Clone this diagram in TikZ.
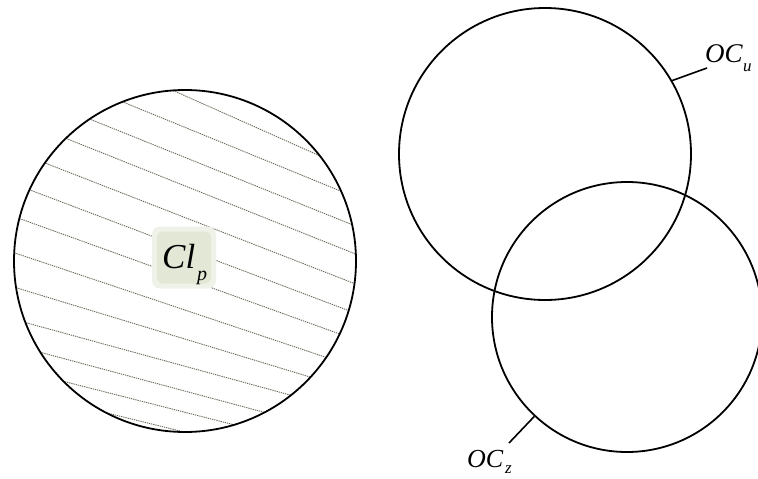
\documentclass[tikz,border=0pt]{standalone}
\usepackage{fontspec}
\setmainfont{Liberation Serif}
\definecolor{hatchc}{HTML}{6E695B}
\definecolor{boxc}{HTML}{E3E8D6}
\definecolor{boxh}{HTML}{EFF2E8}
\begin{document}
\begin{tikzpicture}[x=1pt,y=-1pt,
  ring/.style={circle, draw=black, line width=1.8pt, inner sep=0pt, minimum size=#1},
  hatch/.style={draw=hatchc, line width=0.9pt, dash pattern=on 1.3pt off 0.9pt, shorten <=-14pt, shorten >=-14pt},
  tick/.style={draw=black, line width=1.6pt},
  lab/.style={inner sep=0pt, anchor=base west, font=\fontsize{27}{27}\selectfont\itshape},
  sublab/.style={inner sep=0pt, anchor=base west, font=\fontsize{17}{17}\selectfont\itshape}]
\useasboundingbox (0,0) rectangle (758,479);
\fill[white] (0,0) rectangle (758,479);
% hatching of the left disc
\begin{scope}
  \clip (185,261) circle[radius=171];
  \foreach \xa/\ya/\xb/\yb in {172/90/318/155, 123/102/338/190, 92/120/348/223,
      65/138/353/253, 45/163/353/283, 30/190/347/310, 18/218/337/333,
      15/253/325/357, 17/288/310/377, 27/323/290/395, 43/353/263/412,
      70/383/227/423, 107/413/168/428}
    \draw[hatch] (\xa,\ya) -- (\xb,\yb);
\end{scope}
% label patch
\node (clpbg) [fill=boxh, rounded corners=8pt, minimum width=64pt, minimum height=62pt, inner sep=0pt] at (184,257.5) {};
\node (clpbox) [fill=boxc, rounded corners=6pt, minimum width=54pt, minimum height=52pt, inner sep=0pt] at (184,257.5) {};
\node (cl) [lab, font=\fontsize{35}{35}\selectfont\itshape] at (162,268) {Cl};
\node (clsub) [sublab, font=\fontsize{20}{20}\selectfont\itshape] at (197,280) {p};
% circles
\node (left) [ring=342pt] at (185,261) {};
\node (cu) [ring=292pt] at (545,154) {};
\node (cz) [ring=270pt] at (627,317) {};
% labels and ticks
\node (ocu) [lab] at (705,62) {OC};
\node (ocusub) [sublab] at (743,71) {u};
\coordinate (ue) at (707,68);
\draw[tick] (cu.30) -- (ue);
\node (ocz) [lab, font=\fontsize{26}{26}\selectfont\itshape] at (467,467) {OC};
\node (oczsub) [sublab] at (505,473) {z};
\coordinate (ze) at (509,443);
\draw[tick] (cz.227.4) -- (ze);
\end{tikzpicture}
\end{document}
